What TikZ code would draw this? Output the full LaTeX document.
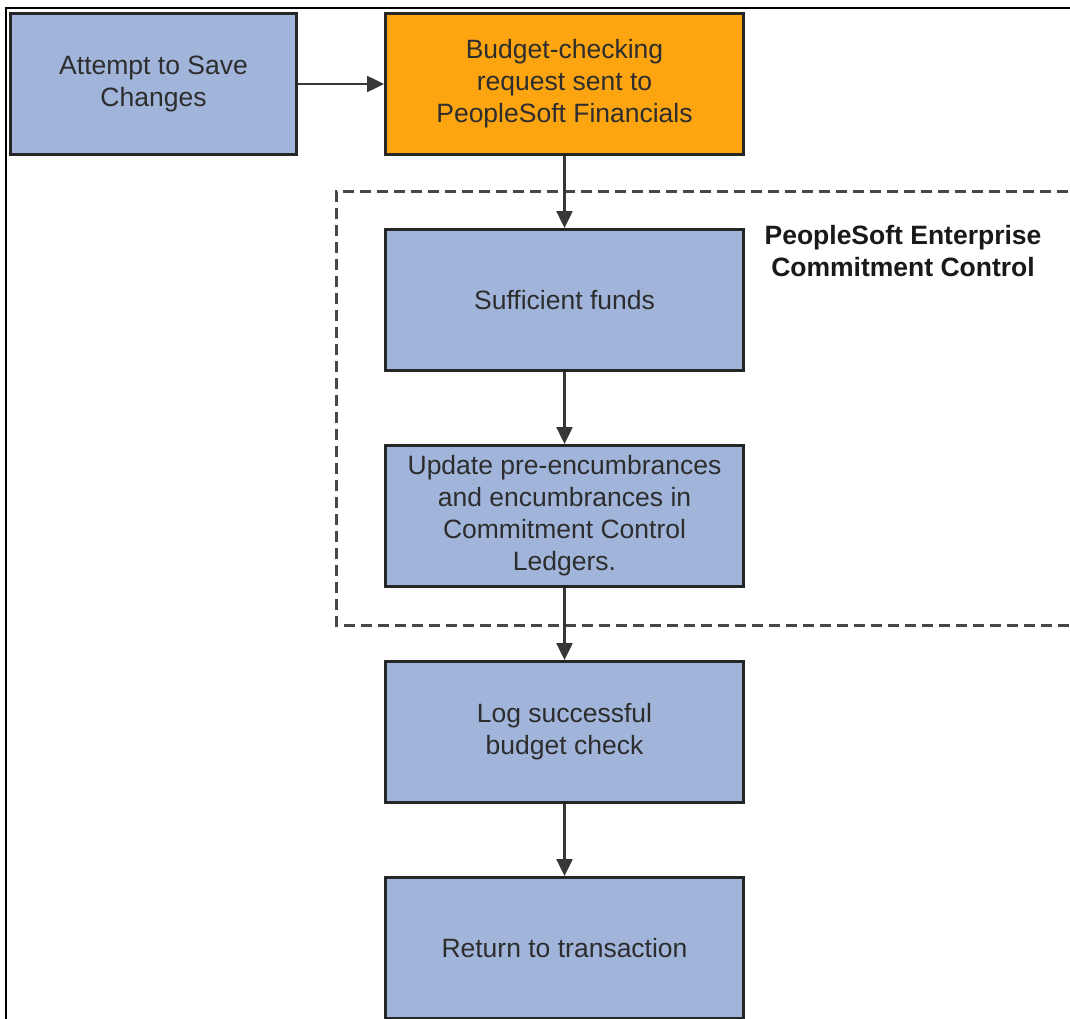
\documentclass[tikz,border=0pt]{standalone}
\usepackage{fontspec}
\setmainfont{Liberation Sans}
\usepackage{tikz}
\usetikzlibrary{positioning,arrows.meta}
\definecolor{boxBlue}{RGB}{161,181,219}
\definecolor{boxOrange}{RGB}{253,165,17}
\definecolor{textGray}{RGB}{45,45,45}
\definecolor{lineGray}{RGB}{55,55,55}

\begin{document}
\begin{tikzpicture}[%
	x=1pt,y=1pt,
	every node/.style = {shape=rectangle,align=center,text=textGray,font=\fontsize{26.5}{32}\selectfont},
	stepBox/.style={draw=black!85,line width=3pt,fill=boxBlue,minimum width=358pt,minimum height=141pt},
	startBox/.style={stepBox,minimum width=286pt},
	requestBox/.style={stepBox,fill=boxOrange},
	flow/.style={draw=lineGray,line width=2.5pt,-{Triangle[length=17pt,width=16pt]}},
	groupFrame/.style={draw=black!72,line width=3pt,dash pattern=on 11pt off 6pt},
	node distance=72pt and 86pt
	]
	\useasboundingbox (0,0) rectangle (1070,-1019);
	\clip (0,0) rectangle (1070,-1019);
	% page frame
	\draw [line width=1.5pt] (1075,-8) -- (6,-8) -- (6,-1025);
	% commitment control group
	\draw [groupFrame] (1085,-192) -- (336,-192) -- (336,-625) -- (1085,-625);
  \node [requestBox] (request) at (564.5,-84) {Budget-checking\\request sent to\\PeopleSoft Financials};
  \node [startBox, left=of request] (save) {Attempt to Save\\Changes};
  \node [stepBox, below=of request] (funds) {Sufficient funds};
  \node [stepBox, below=of funds] (update) {Update pre-encumbrances\\and encumbrances in\\Commitment Control\\Ledgers.};
  \node [stepBox, below=of update] (logCheck) {Log successful\\budget check};
  \node [stepBox, below=of logCheck] (retTrans) {Return to transaction};
  \node [font=\bfseries\fontsize{26.5}{32}\selectfont, text=black!90] (ccLabel) at (903,-251) {PeopleSoft Enterprise\\Commitment Control};
 \draw [flow] (save) -- (request);
 \draw [flow] (request) -- (funds);
 \draw [flow] (funds) -- (update);
 \draw [flow] (update) -- (logCheck);
 \draw [flow] (logCheck) -- (retTrans);
		\end{tikzpicture}
\end{document}
